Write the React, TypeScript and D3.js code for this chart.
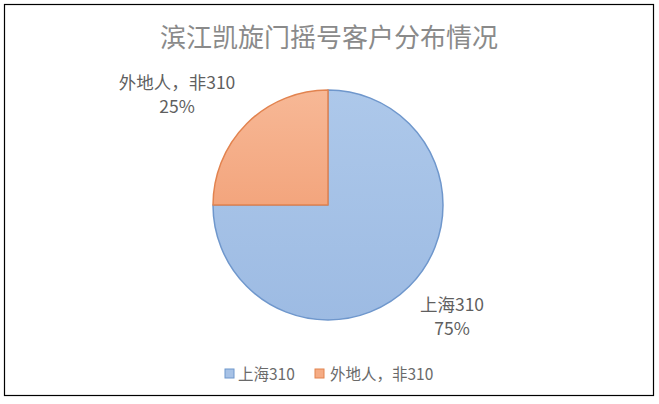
import React from "react";
import * as d3 from "d3";

const categories = ["上海310", "外地人，非310"];
const values = [75, 25];
const percentLabels = ["75%", "25%"];
const title = "滨江凯旋门摇号客户分布情况";

const W = 659;
const H = 404;
const cx = 328;
const cy = 205;
const R = 115;
const font = '"Noto Sans CJK SC", "Noto Sans", sans-serif';

const fills = ["url(#gBlue)", "url(#gOrange)"];
const strokes = ["#6f97cc", "#e2834f"];
const legendFill = ["#a7c2e6", "#f5ac85"];

export default function App() {
  const pie = d3
    .pie<number>()
    .sort(null)
    .value((d) => d);
  const arcs = pie(values);
  const arcGen = d3.arc<d3.PieArcDatum<number>>().innerRadius(0).outerRadius(R);

  const labelPos = [
    { x: 452, y: 311 },
    { x: 177, y: 89 },
  ];

  const legendItems = [
    { sx: 225, tx: 238 },
    { sx: 315, tx: 330 },
  ];

  return (
    <svg
      width={W}
      height={H}
      style={{ position: "fixed", left: 0, top: 0, background: "#fff" }}
      fontFamily={font}
    >
      <defs>
        <linearGradient id="gBlue" x1="0" y1="0" x2="0" y2="1">
          <stop offset="0%" stopColor="#adc8ea" />
          <stop offset="100%" stopColor="#9dbbe3" />
        </linearGradient>
        <linearGradient id="gOrange" x1="0" y1="0" x2="0" y2="1">
          <stop offset="0%" stopColor="#f7b896" />
          <stop offset="100%" stopColor="#f3a57d" />
        </linearGradient>
      </defs>
      <rect x={0} y={0} width={W} height={H} fill="#fff" />
      <rect x={4.5} y={4.5} width={649} height={391} fill="none" stroke="#000" strokeWidth={1.2} />
      <text x={329} y={47} textAnchor="middle" fontSize={26} fill="#8a8a8a">
        {title}
      </text>
      <g transform={`translate(${cx},${cy})`}>
        {arcs.map((a, i) => (
          <path
            key={categories[i]}
            d={arcGen(a) || ""}
            fill={fills[i]}
            stroke={strokes[i]}
            strokeWidth={1.5}
            strokeLinejoin="round"
          />
        ))}
      </g>
      {categories.map((c, i) => (
        <text
          key={c}
          x={labelPos[i].x}
          y={labelPos[i].y}
          textAnchor="middle"
          fontSize={17.5}
          fill="#5f5f5f"
        >
          <tspan x={labelPos[i].x}>{c}</tspan>
          <tspan x={labelPos[i].x} dy={24}>
            {percentLabels[i]}
          </tspan>
        </text>
      ))}
      {categories.map((c, i) => (
        <g key={"lg" + c}>
          <rect
            x={legendItems[i].sx}
            y={369}
            width={9}
            height={9}
            fill={legendFill[i]}
            stroke={strokes[i]}
            strokeWidth={1}
          />
          <text x={legendItems[i].tx} y={379.5} fontSize={15.5} fill="#6a6a6a">
            {c}
          </text>
        </g>
      ))}
    </svg>
  );
}
